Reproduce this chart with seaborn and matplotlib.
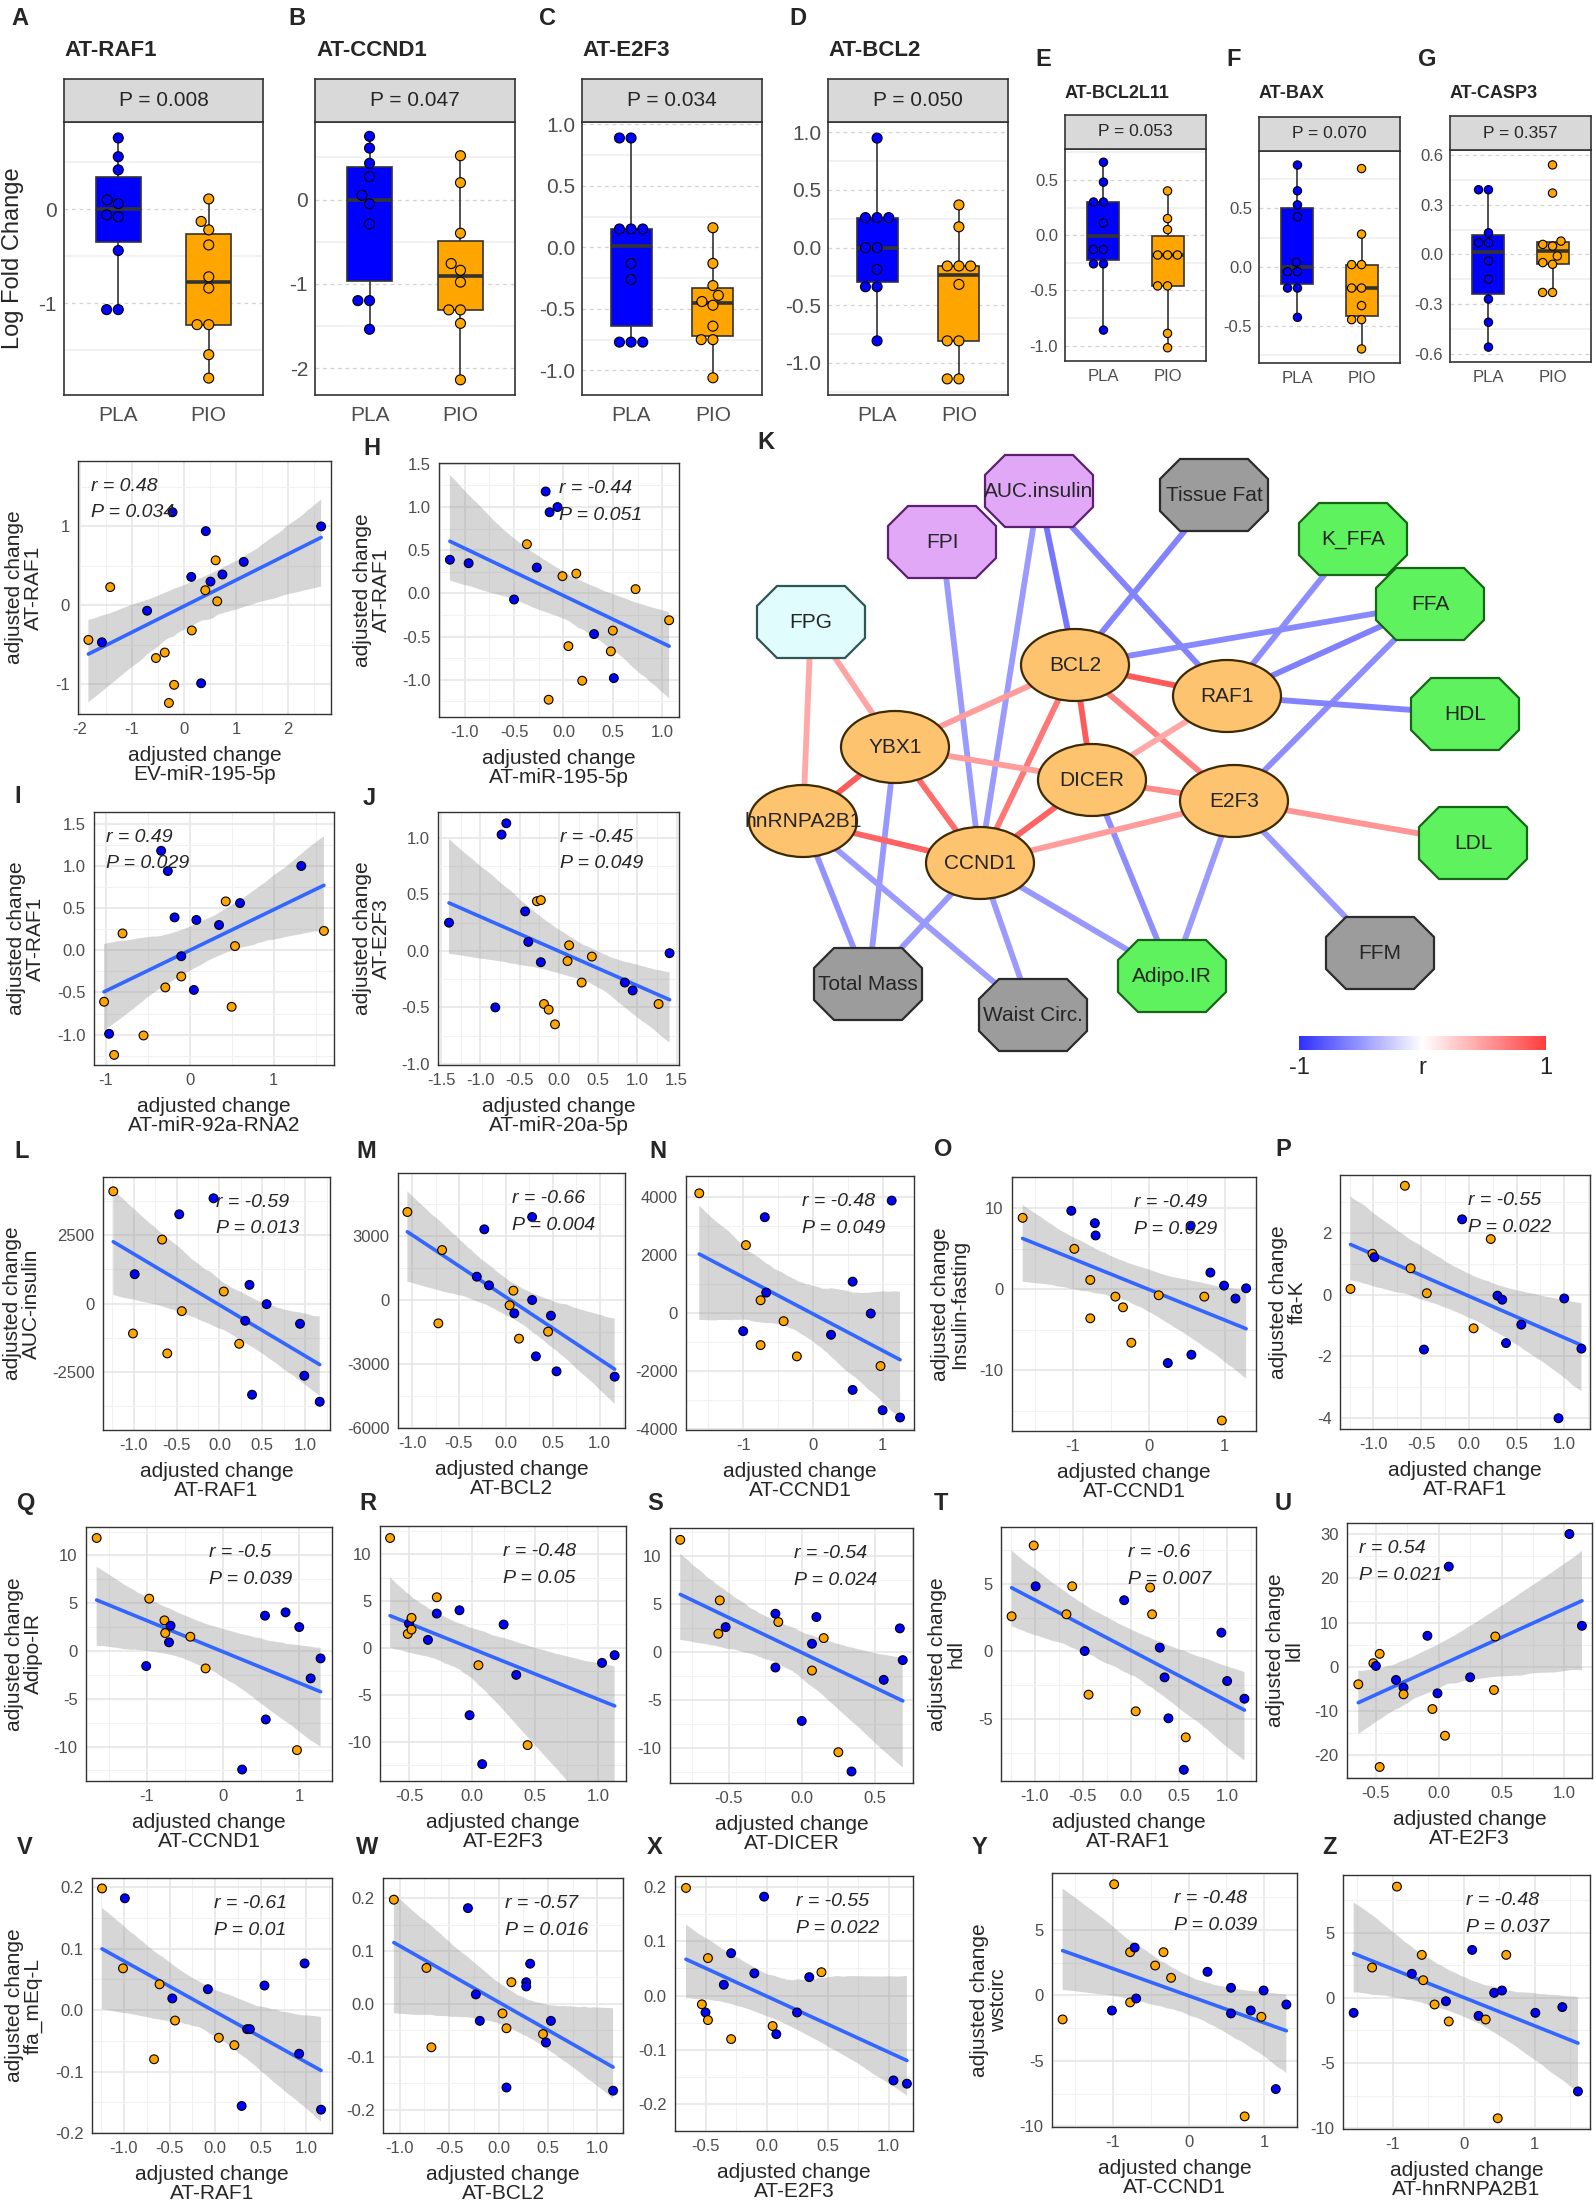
"""
Multi-panel figure: PLA vs PIO box plots, correlation network and
adjusted-change scatter plots with linear fits.
"""
import pandas as pd
import matplotlib
matplotlib.use("Agg")
import matplotlib.pyplot as plt
import seaborn as sns
from matplotlib.patches import Ellipse, Polygon
from matplotlib.colors import LinearSegmentedColormap, Normalize
from matplotlib.cm import ScalarMappable
from matplotlib.ticker import FixedLocator, FormatStrFormatter, AutoMinorLocator

sns.set_theme(style="white")
plt.rcParams["font.family"] = ["Liberation Sans", "DejaVu Sans"]
plt.rcParams["axes.unicode_minus"] = False

W, H = 1596, 2203
DPI = 100
BLUE, ORANGE = "#0000FF", "#FFA500"
PALETTE = {"PLA": BLUE, "PIO": ORANGE}
GROUP = {"b": "PLA", "o": "PIO"}
INK = "#333333"
TICK_TXT = "#4D4D4D"

# ---- box plot data (log fold change) ----
RAF1_PLA = [-1.07, -1.07, -0.44, -0.08, -0.06, 0.06, 0.10, 0.42, 0.56, 0.76]
RAF1_PIO = [-1.80, -1.55, -1.23, -1.23, -0.84, -0.72, -0.38, -0.22, -0.13, 0.11]
CCND1_PLA = [-1.54, -1.20, -1.20, -0.29, -0.05, 0.05, 0.27, 0.43, 0.61, 0.75]
CCND1_PIO = [-2.14, -1.47, -1.31, -1.31, -0.98, -0.84, -0.76, -0.40, 0.20, 0.52]
E2F3_PLA = [-0.77, -0.77, -0.77, -0.26, -0.13, 0.15, 0.15, 0.15, 0.89, 0.89]
E2F3_PIO = [-1.06, -0.75, -0.75, -0.64, -0.47, -0.44, -0.39, -0.31, -0.13, 0.16]
BCL2_PLA = [-0.81, -0.34, -0.34, -0.19, 0.0, 0.0, 0.26, 0.26, 0.26, 0.95]
BCL2_PIO = [-1.14, -1.14, -0.81, -0.81, -0.32, -0.16, -0.16, -0.16, 0.18, 0.37]
BCL2L11_PLA = [-0.86, -0.26, -0.26, -0.13, -0.13, 0.11, 0.30, 0.30, 0.48, 0.66]
BCL2L11_PIO = [-1.02, -0.89, -0.46, -0.46, -0.18, -0.18, -0.18, 0.05, 0.15, 0.40]
BAX_PLA = [-0.43, -0.18, -0.18, -0.04, -0.04, 0.04, 0.43, 0.53, 0.65, 0.87]
BAX_PIO = [-0.70, -0.45, -0.45, -0.33, -0.18, -0.18, 0.02, 0.02, 0.28, 0.84]
CASP3_PLA = [-0.56, -0.41, -0.27, -0.15, -0.04, 0.07, 0.07, 0.13, 0.39, 0.39]
CASP3_PIO = [-0.23, -0.23, -0.06, -0.05, -0.01, 0.05, 0.06, 0.08, 0.37, 0.54]

# ---- scatter data (adjusted change), groups: b = PLA, o = PIO ----
EV195_X = [-1.84, -1.58, -1.42, -0.71, -0.54, -0.37, -0.29, -0.19, -0.22, 0.15,
           0.14, 0.33, 0.41, 0.42, 0.51, 0.61, 0.64, 0.74, 1.15, 2.64]
EV195_Y = [-0.44, -0.47, 0.23, -0.07, -0.67, -0.60, -1.24, -1.01, 1.18, -0.32,
           0.36, -0.99, 0.19, 0.94, 0.30, 0.57, 0.05, 0.39, 0.55, 1.00]
EV195_G = "oboboooobobbobboobbb"

AT195_X = [-1.15, -0.96, -0.50, -0.37, -0.27, -0.18, -0.14, -0.06, -0.15, -0.01,
           0.05, 0.13, 0.19, 0.31, 0.48, 0.50, 0.51, 0.73, 1.07]
AT195_Y = [0.39, 0.35, -0.07, 0.57, 0.30, 1.18, 0.94, 1.00, -1.23, 0.20,
           -0.61, 0.23, -1.01, -0.47, -0.67, -0.43, -0.98, 0.05, -0.31]
AT195_G = "bbbobbbbooooobooboo"

MIR92_X = [-1.02, -0.96, -0.90, -0.80, -0.55, -0.34, -0.29, -0.26, -0.18, -0.10,
           -0.10, 0.05, 0.08, 0.35, 0.43, 0.50, 0.54, 0.60, 1.33, 1.60]
MIR92_Y = [-0.61, -0.99, -1.24, 0.20, -1.01, 1.18, -0.44, 0.94, 0.39, -0.07,
           -0.31, -0.47, 0.36, 0.30, 0.58, -0.67, 0.05, 0.56, 1.00, 0.23]
MIR92_G = "obooobobbbobbbooobbo"

MIR20_X = [-1.40, -0.81, -0.73, -0.67, -0.43, -0.39, -0.28, -0.23, -0.23, -0.19,
           -0.13, -0.05, 0.11, 0.13, 0.29, 0.42, 0.84, 0.94, 1.27, 1.41]
MIR20_Y = [0.25, -0.50, 1.03, 1.13, 0.35, 0.08, 0.44, 0.45, -0.10, -0.47,
           -0.52, -0.65, -0.09, 0.05, -0.28, -0.05, -0.28, -0.35, -0.47, -0.02]
MIR20_G = "bbbbbboobooooooobbob"

AUC_RAF1_X = [-1.24, -1.01, -0.99, -0.67, -0.61, -0.47, -0.44, -0.07, 0.05, 0.23,
              0.30, 0.35, 0.38, 0.55, 0.94, 0.99, 1.17]
AUC_RAF1_Y = [4110, -1098, 1073, 2341, -1829, 3268, -280, 3854, 439, -1476,
              -634, 683, -3341, -24, -744, -2646, -3598]
AUC_RAF1_G = "oobooboboobbbbbbb"

AUC_BCL2_X = [-1.05, -0.72, -0.68, -0.31, -0.23, -0.18, 0.04, 0.08, 0.09, 0.14,
              0.28, 0.28, 0.32, 0.45, 0.48, 0.54, 1.16]
AUC_BCL2_Y = [4103, -1108, 2324, 1076, 3292, 671, -265, 421, -640, -1825,
              -16, 3869, -2652, -1498, -749, -3354, -3604]
AUC_BCL2_G = "ooobbboobobbbobbb"

AUC_CCND1_X = [-1.63, -1.00, -0.96, -0.75, -0.75, -0.69, -0.67, -0.42, -0.23, 0.26,
               0.57, 0.57, 0.83, 0.97, 1.00, 1.13, 1.25]
AUC_CCND1_Y = [4114, -629, 2331, -1109, 434, 3291, 697, -286, -1497, -754,
               1074, -2651, -23, -1829, -3349, 3863, -3600]
AUC_CCND1_G = "obooobboobbbbobbb"

INS_CCND1_X = [-1.66, -1.02, -0.98, -0.77, -0.77, -0.71, -0.70, -0.44, -0.34, -0.23,
               0.13, 0.25, 0.55, 0.56, 0.73, 0.81, 0.96, 0.99, 1.14, 1.28]
INS_CCND1_Y = [8.82, 9.69, 4.99, 1.15, -3.59, 8.16, 6.64, -0.91, -2.23, -6.60,
               -0.74, -9.11, 7.84, -8.08, -0.91, 2.06, -16.2, 0.45, -1.15, 0.12]
INS_CCND1_G = "obooobboooobbbobobbb"

FFAK_RAF1_X = [-1.24, -1.01, -0.99, -0.67, -0.61, -0.47, -0.44, -0.07, 0.05, 0.23,
               0.30, 0.35, 0.39, 0.55, 0.94, 1.00, 1.18]
FFAK_RAF1_Y = [0.19, 1.33, 1.22, 3.54, 0.86, -1.78, 0.05, 2.45, -1.09, 1.81,
               -0.03, -0.16, -1.57, -0.97, -4.01, -0.12, -1.75]
FFAK_RAF1_G = "oobooboboobbbbbbb"

AIR_CCND1_X = [-1.66, -1.01, -0.97, -0.77, -0.76, -0.71, -0.69, -0.43, -0.23, 0.25,
               0.55, 0.56, 0.82, 0.97, 1.00, 1.15, 1.28]
AIR_CCND1_Y = [11.83, -1.57, 5.48, 3.21, 1.88, 0.91, 2.65, 1.50, -1.82, -12.4,
               3.70, -7.16, 4.05, -10.37, 2.51, -2.86, -0.77]
AIR_CCND1_G = "obooobboobbbbobbb"

AIR_E2F3_X = [-0.65, -0.51, -0.50, -0.48, -0.48, -0.35, -0.28, -0.28, -0.10, -0.02,
              0.05, 0.08, 0.25, 0.35, 0.44, 1.03, 1.13]
AIR_E2F3_Y = [11.72, 1.49, 2.59, 1.95, 3.20, 0.85, 3.66, 5.40, 4.01, -7.18,
              -1.85, -12.4, 2.49, -2.88, -10.37, -1.60, -0.78]
AIR_E2F3_G = "ooboobbobbobbbobb"

AIR_DICER_X = [-0.83, -0.57, -0.56, -0.52, -0.18, -0.18, -0.16, 0.00, 0.07, 0.07,
               0.10, 0.15, 0.25, 0.34, 0.56, 0.67, 0.69]
AIR_DICER_Y = [11.67, 1.91, 5.38, 2.60, 3.99, -1.60, 3.13, -7.15, -1.91, 0.87,
               3.65, 1.46, -10.4, -12.4, -2.88, 2.47, -0.83]
AIR_DICER_G = "ooobbbobobboobbbb"

HDL_RAF1_X = [-1.24, -1.01, -0.99, -0.67, -0.61, -0.48, -0.44, -0.07, 0.05, 0.20,
              0.22, 0.30, 0.35, 0.39, 0.57, 0.55, 0.94, 1.00, 1.18]
HDL_RAF1_Y = [2.59, 7.83, 4.81, 2.74, 4.81, 0.02, -3.21, 3.78, -4.44, 4.72,
              2.74, 0.27, -1.93, -4.96, -6.37, -8.77, 1.38, -2.20, -3.51]
HDL_RAF1_G = "ooboobobooobbbobbbb"

LDL_E2F3_X = [-0.64, -0.52, -0.50, -0.47, -0.47, -0.34, -0.28, -0.28, -0.09, -0.05,
              -0.01, 0.05, 0.08, 0.25, 0.44, 0.45, 1.04, 1.14]
LDL_E2F3_Y = [-4.02, 0.76, 0.15, 2.89, -22.8, -3.04, -4.78, -6.30, 6.99, -9.64,
              -6.07, -15.7, 22.7, -2.43, -5.32, 6.83, 30.1, 9.26]
LDL_E2F3_G = "ooboobbobobobboobb"

FFA_RAF1_X = [-1.24, -1.01, -0.99, -0.67, -0.61, -0.47, -0.44, -0.08, 0.04, 0.21,
              0.29, 0.35, 0.38, 0.54, 0.92, 0.98, 1.16]
FFA_RAF1_Y = [0.198, 0.068, 0.182, -0.080, 0.042, 0.019, -0.017, 0.034, -0.045, -0.057,
              -0.156, -0.031, -0.031, 0.040, -0.071, 0.076, -0.162]
FFA_RAF1_G = "oobooboboobbbbbbb"

FFA_BCL2_X = [-1.06, -0.73, -0.68, -0.31, -0.23, -0.19, 0.04, 0.08, 0.08, 0.13,
              0.28, 0.28, 0.32, 0.45, 0.48, 0.53, 1.16]
FFA_BCL2_Y = [0.197, 0.068, -0.082, 0.181, 0.018, -0.032, -0.018, -0.046, -0.158, 0.041,
              0.041, 0.033, 0.076, -0.057, -0.073, -0.032, -0.164]
FFA_BCL2_G = "ooobbboobobbbobbb"

FFA_E2F3_X = [-0.66, -0.48, -0.53, -0.50, -0.48, -0.35, -0.29, -0.29, -0.10, -0.02,
              0.05, 0.08, 0.25, 0.35, 0.45, 1.04, 1.15]
FFA_E2F3_Y = [0.198, 0.069, -0.016, -0.031, -0.045, 0.020, 0.078, -0.080, 0.041, 0.182,
              -0.056, -0.071, -0.031, 0.034, 0.043, -0.156, -0.162]
FFA_E2F3_G = "ooobobbobbobbbobb"

WST_CCND1_X = [-1.66, -1.01, -0.98, -0.77, -0.77, -0.71, -0.69, -0.44, -0.33, -0.23,
               0.25, 0.56, 0.56, 0.74, 0.82, 0.96, 0.99, 1.15, 1.29]
WST_CCND1_Y = [-1.83, -1.15, 8.50, 3.31, -0.53, 3.66, -0.23, 2.29, 3.31, 1.35,
               1.81, -1.37, 0.59, -9.24, -1.15, -1.63, 0.38, -7.15, -0.69]
WST_CCND1_G = "obooobbooobbbobobbb"

WST_HNRNP_X = [-1.55, -1.29, -0.94, -0.73, -0.59, -0.57, -0.41, -0.25, -0.21, 0.12,
               0.21, 0.31, 0.43, 0.48, 0.54, 0.60, 1.01, 1.39, 1.61]
WST_HNRNP_Y = [-1.15, 2.32, 8.52, 1.84, 3.29, 1.35, -0.51, -0.26, -1.81, 3.67,
               -1.38, -1.66, 0.38, -9.23, 0.56, 3.29, -1.15, -0.71, -7.17]
WST_HNRNP_G = "boobooobobbobobobbb"

# ---- network data ----
NODES = ["AUC.insulin", "Tissue Fat", "FPI", "K_FFA", "FFA", "FPG", "BCL2", "RAF1",
         "HDL", "YBX1", "DICER", "E2F3", "hnRNPA2B1", "CCND1", "LDL", "FFM",
         "Adipo.IR", "Total Mass", "Waist Circ."]
NODE_KIND = ["insulin", "body", "insulin", "lipid", "lipid", "glucose", "gene", "gene",
             "lipid", "gene", "gene", "gene", "gene", "gene", "lipid", "body",
             "lipid", "body", "body"]
EDGE_FROM = ["AUC.insulin", "AUC.insulin", "AUC.insulin", "Tissue Fat", "FPI", "K_FFA",
             "FFA", "FFA", "FFA", "RAF1", "YBX1", "hnRNPA2B1", "hnRNPA2B1", "CCND1",
             "CCND1", "CCND1", "DICER", "E2F3", "E2F3",
             "FPG", "FPG", "BCL2", "BCL2", "BCL2", "BCL2", "BCL2", "RAF1", "YBX1",
             "YBX1", "YBX1", "hnRNPA2B1", "DICER", "DICER", "E2F3", "E2F3"]
EDGE_TO = ["CCND1", "BCL2", "RAF1", "BCL2", "CCND1", "RAF1",
           "BCL2", "RAF1", "E2F3", "HDL", "Total Mass", "Total Mass", "Waist Circ.",
           "Total Mass", "Waist Circ.", "Adipo.IR", "Adipo.IR", "Adipo.IR", "FFM",
           "hnRNPA2B1", "YBX1", "YBX1", "RAF1", "DICER", "CCND1", "E2F3", "DICER",
           "DICER", "CCND1", "hnRNPA2B1", "CCND1", "CCND1", "E2F3", "CCND1", "LDL"]
EDGE_R = [-0.48, -0.66, -0.59, -0.60, -0.49, -0.55,
          -0.57, -0.61, -0.55, -0.60, -0.50, -0.52, -0.48,
          -0.50, -0.48, -0.50, -0.54, -0.48, -0.50,
          0.45, 0.47, 0.50, 0.85, 0.85, 0.70, 0.65, 0.45,
          0.50, 0.75, 0.85, 0.80, 0.80, 0.60, 0.50, 0.54]

# network layout (figure pixels)
NODE_XY = {
    "AUC.insulin": (1039, 491), "Tissue Fat": (1214, 495), "FPI": (942, 542),
    "K_FFA": (1353, 539), "FFA": (1430, 604), "FPG": (811, 622), "BCL2": (1075, 665),
    "RAF1": (1227, 696), "HDL": (1465, 714), "YBX1": (895, 747), "DICER": (1092, 780),
    "E2F3": (1234, 801), "hnRNPA2B1": (803, 821), "CCND1": (980, 863), "LDL": (1473, 843),
    "FFM": (1380, 953), "Adipo.IR": (1172, 976), "Total Mass": (868, 984),
    "Waist Circ.": (1033, 1015),
}
NODE_STYLE = {
    "gene": ("#FDC36E", "#3D2A00"),
    "insulin": ("#E2A8F8", "#5E1F70"),
    "body": ("#9C9C9C", "#2B2B2B"),
    "lipid": ("#5EF25E", "#166616"),
    "glucose": ("#E0FCFC", "#2E5656"),
}

fig = plt.figure(figsize=(W / DPI, H / DPI), dpi=DPI)
fig.patch.set_facecolor("white")


def rect(l, r, t, b):
    return [l / W, 1 - b / H, (r - l) / W, (b - t) / H]


def letter(x, y, s):
    fig.text(x / W, 1 - y / H, s, fontsize=17, fontweight="bold", va="top", ha="left")


def style_spines(ax, lw=1.1):
    for sp in ax.spines.values():
        sp.set_visible(True)
        sp.set_color(INK)
        sp.set_linewidth(lw)


def box_panel(l, r, t, b, strip_t, pla, pio, pval, ylim, yticks, fmt, big):
    fs_tick = 15 if big else 12
    ax = fig.add_axes(rect(l, r, t, b))
    df = pd.DataFrame({"group": ["PLA"] * len(pla) + ["PIO"] * len(pio),
                       "value": pla + pio})
    sns.boxplot(data=df, x="group", y="value", hue="group", order=["PLA", "PIO"],
                palette=PALETTE, saturation=1, width=0.5, linewidth=1.2, linecolor=INK,
                showfliers=False, medianprops={"linewidth": 2.6},
                capprops={"linewidth": 0}, legend=False, ax=ax)
    sns.swarmplot(data=df, x="group", y="value", hue="group", order=["PLA", "PIO"],
                  palette=PALETTE, size=7.2 if big else 6, edgecolor="black",
                  linewidth=0.8, legend=False, ax=ax, zorder=3)
    ax.set_xlim(-0.6, 1.6)
    ax.set_ylim(*ylim)
    ax.yaxis.set_major_locator(FixedLocator(yticks))
    ax.yaxis.set_major_formatter(FormatStrFormatter(fmt))
    ax.yaxis.set_minor_locator(AutoMinorLocator(2))
    ax.grid(True, axis="y", which="major", color="#D2D2D2", linestyle=(0, (3, 3)),
            linewidth=0.9)
    ax.grid(True, axis="y", which="minor", color="#EDEDED", linestyle="-", linewidth=1.1)
    ax.grid(False, axis="x")
    ax.set_axisbelow(True)
    ax.tick_params(axis="both", which="both", length=0, labelsize=fs_tick,
                   labelcolor=TICK_TXT)
    ax.tick_params(axis="x", pad=8 if big else 6)
    ax.tick_params(axis="y", pad=5)
    ax.set_xlabel("")
    ax.set_ylabel("")
    style_spines(ax, 1.2)

    sax = fig.add_axes(rect(l, r, strip_t, t))
    sax.set_facecolor("#D9D9D9")
    sax.set_xticks([])
    sax.set_yticks([])
    style_spines(sax, 1.2)
    sax.text(0.5, 0.5, f"P = {pval}", ha="center", va="center",
             fontsize=15 if big else 12.5, transform=sax.transAxes)
    return ax


# ---------------- top row: box plots ----------------
ax_a = box_panel(64, 263, 122, 395, 79, RAF1_PLA, RAF1_PIO, "0.008",
                 (-1.98, 0.93), [-1, 0], "%.0f", True)
ax_a.set_ylabel("Log Fold Change", fontsize=17, va="center")
ax_a.yaxis.set_label_coords((13 - 64) / (263 - 64), 0.5)
box_panel(315, 515, 122, 395, 79, CCND1_PLA, CCND1_PIO, "0.047",
          (-2.32, 0.92), [-2, -1, 0], "%.0f", True)
box_panel(582, 762, 122, 395, 79, E2F3_PLA, E2F3_PIO, "0.034",
          (-1.20, 1.02), [-1, -0.5, 0, 0.5, 1], "%.1f", True)
box_panel(828, 1008, 122, 395, 79, BCL2_PLA, BCL2_PIO, "0.050",
          (-1.28, 1.09), [-1, -0.5, 0, 0.5, 1], "%.1f", True)
box_panel(1065, 1206, 149, 361, 115, BCL2L11_PLA, BCL2L11_PIO, "0.053",
          (-1.14, 0.78), [-1, -0.5, 0, 0.5], "%.1f", False)
box_panel(1259, 1400, 151, 363, 117, BAX_PLA, BAX_PIO, "0.070",
          (-0.82, 0.99), [-0.5, 0, 0.5], "%.1f", False)
box_panel(1450, 1591, 150, 362, 116, CASP3_PLA, CASP3_PIO, "0.357",
          (-0.65, 0.63), [-0.6, -0.3, 0, 0.3, 0.6], "%.1f", False)

for x, s in [(11, "A"), (288, "B"), (539, "C"), (789, "D")]:
    letter(x, 7, s)
for x, s in [(1035, "E"), (1226, "F"), (1418, "G")]:
    letter(x, 48, s)
for x, s in [(64, "AT-RAF1"), (316, "AT-CCND1"), (582, "AT-E2F3"), (828, "AT-BCL2")]:
    fig.text(x / W, 1 - 50 / H, s, fontsize=16, fontweight="bold", va="center")
for x, s in [(1065, "AT-BCL2L11"), (1259, "AT-BAX"), (1450, "AT-CASP3")]:
    fig.text(x / W, 1 - 93 / H, s, fontsize=13, fontweight="bold", va="center")

# ---------------- scatter panels ----------------
INT_FMT, DEC_FMT = "%.0f", "%.1f"
HALF = [-1, -0.5, 0, 0.5, 1]
SCATTER_PANELS = [
    dict(box=(78, 331, 461, 714), x=EV195_X, y=EV195_Y, g=EV195_G,
         xlim=(-2.04, 2.83), ylim=(-1.38, 1.83), xt=[-2, -1, 0, 1, 2], xf=INT_FMT,
         yt=[-1, 0, 1], yf=INT_FMT, xname="EV-miR-195-5p", yname="AT-RAF1", ylx=24,
         r="0.48", p="0.034", tx=0.05),
    dict(box=(439, 679, 463, 717), x=AT195_X, y=AT195_Y, g=AT195_G,
         xlim=(-1.26, 1.17), ylim=(-1.43, 1.51), xt=HALF, xf=DEC_FMT,
         yt=[-1, -0.5, 0, 0.5, 1, 1.5], yf=DEC_FMT, xname="AT-miR-195-5p",
         yname="AT-RAF1", ylx=372, r="-0.44", p="0.051", tx=0.50),
    dict(box=(94, 334, 812, 1065), x=MIR92_X, y=MIR92_Y, g=MIR92_G,
         xlim=(-1.14, 1.72), ylim=(-1.36, 1.64), xt=[-1, 0, 1], xf=INT_FMT,
         yt=[-1, -0.5, 0, 0.5, 1, 1.5], yf=DEC_FMT, xname="AT-miR-92a-RNA2",
         yname="AT-RAF1", ylx=26, r="0.49", p="0.029", tx=0.05),
    dict(box=(438, 679, 812, 1065), x=MIR20_X, y=MIR20_Y, g=MIR20_G,
         xlim=(-1.54, 1.53), ylim=(-1.01, 1.23), xt=[-1.5, -1, -0.5, 0, 0.5, 1, 1.5],
         xf=DEC_FMT, yt=HALF, yf=DEC_FMT, xname="AT-miR-20a-5p", yname="AT-E2F3",
         ylx=372, r="-0.45", p="0.049", tx=0.505),
    dict(box=(103, 330, 1177, 1430), x=AUC_RAF1_X, y=AUC_RAF1_Y, g=AUC_RAF1_G,
         xlim=(-1.36, 1.29), ylim=(-4634, 4634), xt=HALF, xf=DEC_FMT,
         yt=[-2500, 0, 2500], yf=INT_FMT, xname="AT-RAF1", yname="AUC-insulin", ylx=22,
         r="-0.59", p="0.013", tx=0.50),
    dict(box=(398, 625, 1173, 1428), x=AUC_BCL2_X, y=AUC_BCL2_Y, g=AUC_BCL2_G,
         xlim=(-1.15, 1.27), ylim=(-6006, 5928), xt=HALF, xf=DEC_FMT,
         yt=[-6000, -3000, 0, 3000], yf=INT_FMT, xname="AT-BCL2", yname=None, ylx=0,
         r="-0.66", p="0.004", tx=0.50),
    dict(box=(686, 914, 1176, 1430), x=AUC_CCND1_X, y=AUC_CCND1_Y, g=AUC_CCND1_G,
         xlim=(-1.82, 1.45), ylim=(-4030, 4709), xt=[-1, 0, 1], xf=INT_FMT,
         yt=[-4000, -2000, 0, 2000, 4000], yf=INT_FMT, xname="AT-CCND1", yname=None,
         ylx=0, r="-0.48", p="0.049", tx=0.51),
    dict(box=(1012, 1256, 1177, 1431), x=INS_CCND1_X, y=INS_CCND1_Y, g=INS_CCND1_G,
         xlim=(-1.80, 1.41), ylim=(-17.5, 13.86), xt=[-1, 0, 1], xf=INT_FMT,
         yt=[-10, 0, 10], yf=INT_FMT, xname="AT-CCND1", yname="Insulin-fasting",
         ylx=950, r="-0.49", p="0.029", tx=0.50),
    dict(box=(1340, 1590, 1175, 1429), x=FFAK_RAF1_X, y=FFAK_RAF1_Y, g=FFAK_RAF1_G,
         xlim=(-1.35, 1.27), ylim=(-4.36, 3.89), xt=HALF, xf=DEC_FMT,
         yt=[-4, -2, 0, 2], yf=INT_FMT, xname="AT-RAF1", yname="ffa-K", ylx=1288,
         r="-0.55", p="0.022", tx=0.51),
    dict(box=(86, 332, 1527, 1781), x=AIR_CCND1_X, y=AIR_CCND1_Y, g=AIR_CCND1_G,
         xlim=(-1.80, 1.43), ylim=(-13.6, 12.98), xt=[-1, 0, 1], xf=INT_FMT,
         yt=[-10, -5, 0, 5, 10], yf=INT_FMT, xname="AT-CCND1", yname="Adipo-IR", ylx=24,
         r="-0.5", p="0.039", tx=0.50),
    dict(box=(380, 626, 1526, 1781), x=AIR_E2F3_X, y=AIR_E2F3_Y, g=AIR_E2F3_G,
         xlim=(-0.73, 1.22), ylim=(-14.2, 13.0), xt=[-0.5, 0, 0.5, 1], xf=DEC_FMT,
         yt=[-10, -5, 0, 5, 10], yf=INT_FMT, xname="AT-E2F3", yname=None, ylx=0,
         r="-0.48", p="0.05", tx=0.50),
    dict(box=(670, 913, 1528, 1783), x=AIR_DICER_X, y=AIR_DICER_Y, g=AIR_DICER_G,
         xlim=(-0.90, 0.76), ylim=(-13.6, 12.9), xt=[-0.5, 0, 0.5], xf=DEC_FMT,
         yt=[-10, -5, 0, 5, 10], yf=INT_FMT, xname="AT-DICER", yname=None, ylx=0,
         r="-0.54", p="0.024", tx=0.51),
    dict(box=(1001, 1256, 1527, 1781), x=HDL_RAF1_X, y=HDL_RAF1_Y, g=HDL_RAF1_G,
         xlim=(-1.35, 1.30), ylim=(-9.6, 9.2), xt=HALF, xf=DEC_FMT,
         yt=[-5, 0, 5], yf=INT_FMT, xname="AT-RAF1", yname="hdl", ylx=947,
         r="-0.6", p="0.007", tx=0.50),
    dict(box=(1347, 1592, 1523, 1778), x=LDL_E2F3_X, y=LDL_E2F3_Y, g=LDL_E2F3_G,
         xlim=(-0.73, 1.22), ylim=(-25.3, 32.6), xt=[-0.5, 0, 0.5, 1], xf=DEC_FMT,
         yt=[-20, -10, 0, 10, 20, 30], yf=INT_FMT, xname="AT-E2F3", yname="ldl",
         ylx=1285, r="0.54", p="0.021", tx=0.05),
    dict(box=(92, 332, 1878, 2133), x=FFA_RAF1_X, y=FFA_RAF1_Y, g=FFA_RAF1_G,
         xlim=(-1.35, 1.28), ylim=(-0.2, 0.215), xt=HALF, xf=DEC_FMT,
         yt=[-0.2, -0.1, 0, 0.1, 0.2], yf=DEC_FMT, xname="AT-RAF1", yname="ffa_mEq-L",
         ylx=24, r="-0.61", p="0.01", tx=0.51),
    dict(box=(383, 623, 1878, 2133), x=FFA_BCL2_X, y=FFA_BCL2_Y, g=FFA_BCL2_G,
         xlim=(-1.17, 1.26), ylim=(-0.244, 0.238), xt=HALF, xf=DEC_FMT,
         yt=[-0.2, -0.1, 0, 0.1, 0.2], yf=DEC_FMT, xname="AT-BCL2", yname=None, ylx=0,
         r="-0.57", p="0.016", tx=0.51),
    dict(box=(675, 913, 1876, 2131), x=FFA_E2F3_X, y=FFA_E2F3_Y, g=FFA_E2F3_G,
         xlim=(-0.75, 1.20), ylim=(-0.249, 0.22), xt=[-0.5, 0, 0.5, 1], xf=DEC_FMT,
         yt=[-0.2, -0.1, 0, 0.1, 0.2], yf=DEC_FMT, xname="AT-E2F3", yname=None, ylx=0,
         r="-0.55", p="0.022", tx=0.51),
    dict(box=(1052, 1297, 1873, 2127), x=WST_CCND1_X, y=WST_CCND1_Y, g=WST_CCND1_G,
         xlim=(-1.80, 1.43), ylim=(-10.05, 9.36), xt=[-1, 0, 1], xf=INT_FMT,
         yt=[-10, -5, 0, 5], yf=INT_FMT, xname="AT-CCND1", yname="wstcirc", ylx=989,
         r="-0.48", p="0.039", tx=0.50),
    dict(box=(1343, 1590, 1875, 2129), x=WST_HNRNP_X, y=WST_HNRNP_Y, g=WST_HNRNP_G,
         xlim=(-1.70, 1.78), ylim=(-10.05, 9.41), xt=[-1, 0, 1], xf=INT_FMT,
         yt=[-10, -5, 0, 5], yf=INT_FMT, xname="AT-hnRNPA2B1", yname=None, ylx=0,
         r="-0.48", p="0.037", tx=0.50),
]


def scatter_panel(p):
    l, r, t, b = p["box"]
    ax = fig.add_axes(rect(l, r, t, b))
    df = pd.DataFrame({"x": p["x"], "y": p["y"], "group": [GROUP[c] for c in p["g"]]})
    sns.regplot(data=df, x="x", y="y", scatter=False, ci=95, n_boot=1000, seed=11,
                color="#3366FF", line_kws={"linewidth": 2.6, "zorder": 2}, ax=ax)
    for coll in ax.collections:
        coll.set_facecolor("#999999")
        coll.set_alpha(0.4)
        coll.set_edgecolor("none")
        coll.set_zorder(1)
    sns.scatterplot(data=df, x="x", y="y", hue="group", palette=PALETTE, s=40,
                    edgecolor="black", linewidth=0.8, legend=False, ax=ax, zorder=3)
    ax.set_xlim(*p["xlim"])
    ax.set_ylim(*p["ylim"])
    ax.xaxis.set_major_locator(FixedLocator(p["xt"]))
    ax.yaxis.set_major_locator(FixedLocator(p["yt"]))
    ax.xaxis.set_major_formatter(FormatStrFormatter(p["xf"]))
    ax.yaxis.set_major_formatter(FormatStrFormatter(p["yf"]))
    ax.xaxis.set_minor_locator(AutoMinorLocator(2))
    ax.yaxis.set_minor_locator(AutoMinorLocator(2))
    ax.grid(True, which="major", color="#E6E6E6", linewidth=1.2)
    ax.grid(True, which="minor", color="#F1F1F1", linewidth=0.8)
    ax.set_axisbelow(True)
    ax.tick_params(which="major", length=4, width=0.8, color=INK, labelsize=12,
                   labelcolor=TICK_TXT, pad=2)
    ax.tick_params(which="minor", length=0)
    style_spines(ax, 1.0)

    ax.set_xlabel("adjusted change\n" + p["xname"], fontsize=15, linespacing=1.05,
                  va="center")
    ax.xaxis.set_label_coords(0.5, -51 / (b - t))
    if p["yname"]:
        ax.set_ylabel("adjusted change\n" + p["yname"], fontsize=15, linespacing=1.0,
                      va="center")
        ax.yaxis.set_label_coords((p["ylx"] - l) / (r - l), 0.5)
    else:
        ax.set_ylabel("")
    ax.text(p["tx"], 0.90, f"r = {p['r']}", transform=ax.transAxes, fontsize=14,
            style="italic", va="center", ha="left", zorder=4)
    ax.text(p["tx"], 0.795, f"P = {p['p']}", transform=ax.transAxes, fontsize=14,
            style="italic", va="center", ha="left", zorder=4)


for spec in SCATTER_PANELS:
    scatter_panel(spec)

for x, y, s in [(363, 437, "H"), (757, 431, "K"), (14, 785, "I"), (363, 787, "J"),
                (14, 1140, "L"), (356, 1140, "M"), (649, 1140, "N"), (934, 1138, "O"),
                (1275, 1138, "P"), (17, 1492, "Q"), (359, 1492, "R"), (647, 1492, "S"),
                (934, 1492, "T"), (1275, 1492, "U"), (17, 1836, "V"), (356, 1836, "W"),
                (647, 1836, "X"), (972, 1836, "Y"), (1322, 1836, "Z")]:
    letter(x, y, s)

# ---------------- K: correlation network ----------------
net = fig.add_axes(rect(740, 1596, 420, 1110))
net.set_xlim(740, 1596)
net.set_ylim(1110, 420)
net.axis("off")

cmap = LinearSegmentedColormap.from_list("r_scale", ["#3030FF", "#FFFFFF", "#FF3D3D"])
norm = Normalize(-1, 1)

for a, b_, rv in zip(EDGE_FROM, EDGE_TO, EDGE_R):
    (x1, y1), (x2, y2) = NODE_XY[a], NODE_XY[b_]
    net.plot([x1, x2], [y1, y2], color=cmap(norm(rv)), linewidth=4.2,
             solid_capstyle="butt", zorder=1)


def octagon(cx, cy, w, h, c):
    hw, hh = w / 2, h / 2
    pts = [(cx - hw + c, cy - hh), (cx + hw - c, cy - hh), (cx + hw, cy - hh + c),
           (cx + hw, cy + hh - c), (cx + hw - c, cy + hh), (cx - hw + c, cy + hh),
           (cx - hw, cy + hh - c), (cx - hw, cy - hh + c)]
    return Polygon(pts, closed=True)


for name, kind in zip(NODES, NODE_KIND):
    cx, cy = NODE_XY[name]
    face, edge = NODE_STYLE[kind]
    if kind == "gene":
        shape = Ellipse((cx, cy), 108, 72)
    else:
        shape = octagon(cx, cy, 108, 72, 20)
    shape.set_facecolor(face)
    shape.set_edgecolor(edge)
    shape.set_linewidth(1.6)
    shape.set_zorder(2)
    net.add_patch(shape)
    net.text(cx, cy, name, ha="center", va="center", fontsize=15, zorder=3)

cax = fig.add_axes(rect(1299, 1546, 1036, 1050))
cb = fig.colorbar(ScalarMappable(norm=norm, cmap=cmap), cax=cax, orientation="horizontal")
cb.set_ticks([-1, 0, 1])
cb.set_ticklabels(["-1", "r", "1"])
cb.outline.set_visible(False)
cax.tick_params(length=0, labelsize=17, pad=5)

fig.savefig("out.png", dpi=DPI, facecolor="white")
